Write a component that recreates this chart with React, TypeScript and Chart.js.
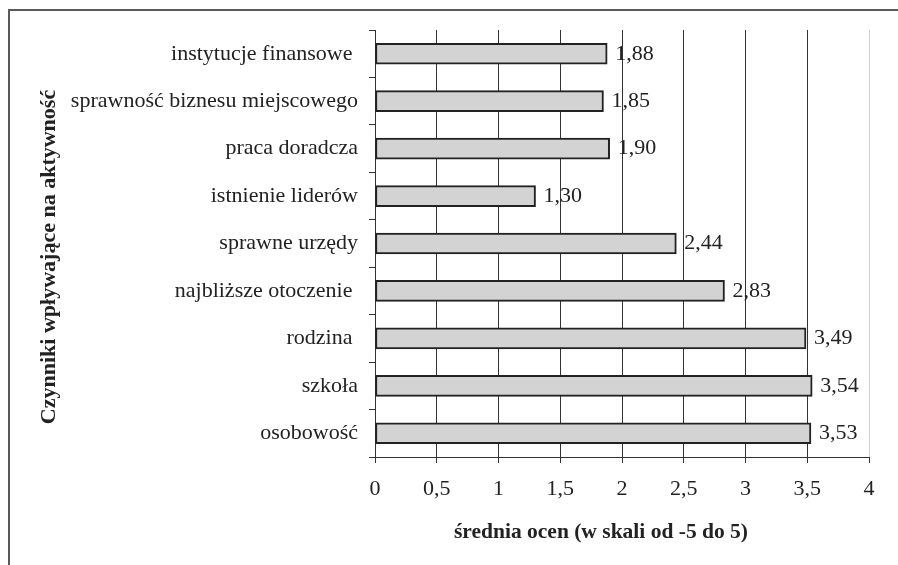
import React, { useEffect, useRef } from "react";
import { Chart, registerables } from "chart.js";

Chart.register(...registerables);

const categories = [
  "instytucje finansowe ",
  "sprawność biznesu miejscowego",
  "praca doradcza",
  "istnienie liderów",
  "sprawne urzędy",
  "najbliższe otoczenie ",
  "rodzina ",
  "szkoła",
  "osobowość",
];
const values = [1.88, 1.85, 1.9, 1.3, 2.44, 2.83, 3.49, 3.54, 3.53];
const xTicks = [0, 0.5, 1, 1.5, 2, 2.5, 3, 3.5, 4];
const xTitle = "średnia ocen (w skali od -5 do 5)";
const yTitle = "Czynniki wpływające na aktywność";

const FONT = "'Liberation Serif', 'Times New Roman', serif";
const INK = "#222222";

const fmt = (v: number, d: number) => v.toFixed(d).replace(".", ",");

const framePlugin = {
  id: "frame",
  beforeDraw(chart: any) {
    const { ctx, width, height } = chart;
    ctx.save();
    ctx.fillStyle = "#ffffff";
    ctx.fillRect(0, 0, width, height);
    ctx.strokeStyle = "#5a5a5a";
    ctx.lineWidth = 2;
    ctx.beginPath();
    ctx.moveTo(9, height);
    ctx.lineTo(9, 10);
    ctx.lineTo(width, 10);
    ctx.stroke();
    ctx.restore();
  },
};

const labelsPlugin = {
  id: "valueLabels",
  afterDatasetsDraw(chart: any) {
    const { ctx } = chart;
    const meta = chart.getDatasetMeta(0);
    ctx.save();
    ctx.font = `22px ${FONT}`;
    ctx.fillStyle = INK;
    ctx.textAlign = "left";
    ctx.textBaseline = "middle";
    meta.data.forEach((bar: any, i: number) => {
      ctx.fillText(fmt(values[i], 2), bar.x + 8, bar.y);
    });
    ctx.restore();
  },
};

const titlesPlugin = {
  id: "axisTitles",
  afterDraw(chart: any) {
    const { ctx } = chart;
    ctx.save();
    ctx.fillStyle = INK;
    ctx.textAlign = "center";
    ctx.textBaseline = "middle";
    ctx.font = `bold 21.5px ${FONT}`;
    ctx.fillText(xTitle, 601, 532);
    ctx.translate(49, 257);
    ctx.rotate(-Math.PI / 2);
    ctx.font = `bold 22px ${FONT}`;
    ctx.fillText(yTitle, 0, 0);
    ctx.restore();
  },
};

export default function App() {
  const ref = useRef<HTMLCanvasElement | null>(null);
  useEffect(() => {
    document.body.style.margin = "0";
    const canvas = ref.current;
    if (!canvas) return;
    const chart = new Chart(canvas, {
      type: "bar",
      data: {
        labels: categories,
        datasets: [
          {
            data: values,
            backgroundColor: "#d3d3d3",
            borderColor: INK,
            borderWidth: 2,
            borderSkipped: false,
            barThickness: 21,
          },
        ],
      },
      options: {
        indexAxis: "y",
        responsive: false,
        animation: false,
        devicePixelRatio: 1,
        layout: { padding: { top: 30, right: 29, left: 0, bottom: 0 } },
        plugins: {
          legend: { display: false },
          tooltip: { enabled: false },
        },
        scales: {
          x: {
            type: "linear",
            min: 0,
            max: 4,
            afterBuildTicks: (scale: any) => {
              scale.ticks = xTicks.map((v) => ({ value: v }));
            },
            afterFit: (scale: any) => {
              scale.height = 108;
            },
            ticks: {
              font: { family: FONT, size: 22 },
              color: INK,
              padding: 13,
              maxRotation: 0,
              callback: (v: any) => fmt(Number(v), Number(v) % 1 === 0 ? 0 : 1),
            },
            grid: {
              color: (c: any) => (c.tick && c.tick.value === 4 ? "#d0d0d0" : "#333333"),
              tickColor: "#333333",
              tickLength: 6,
              lineWidth: 1,
            },
            border: { color: "#333333", width: 1 },
          },
          y: {
            afterFit: (scale: any) => {
              scale.width = 375;
            },
            ticks: {
              font: { family: FONT, size: 22 },
              color: INK,
              padding: 11,
            },
            grid: {
              drawOnChartArea: false,
              offset: true,
              tickLength: 6,
              color: "#333333",
            },
            border: { color: "#333333", width: 1 },
          },
        },
      },
      plugins: [framePlugin, labelsPlugin, titlesPlugin],
    } as any);
    return () => chart.destroy();
  }, []);
  return (
    <canvas
      ref={ref}
      width={898}
      height={565}
      style={{ display: "block", width: 898, height: 565 }}
    />
  );
}
